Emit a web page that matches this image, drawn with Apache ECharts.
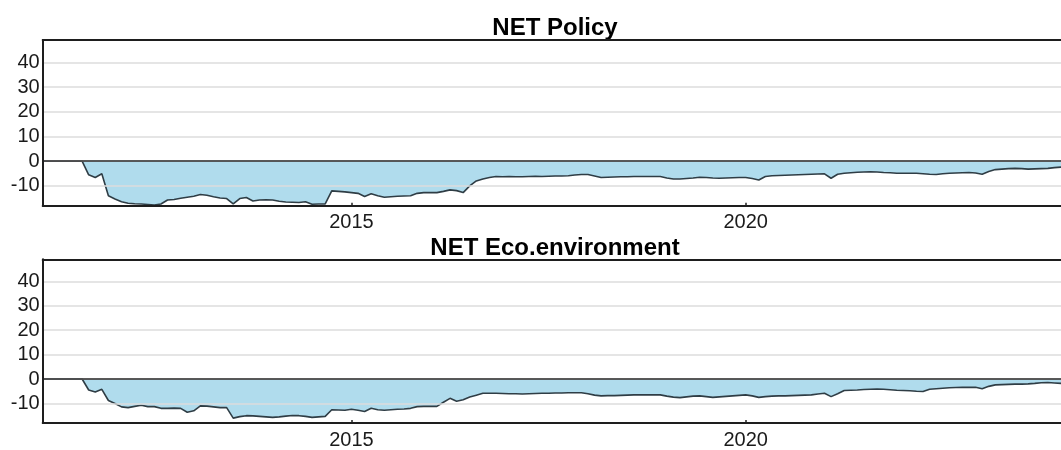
<!DOCTYPE html>
<html>
<head>
<meta charset="utf-8">
<script src="https://cdn.jsdelivr.net/npm/echarts@6/dist/echarts.min.js"></script>
<style>
html,body{margin:0;padding:0;background:#fff;}
#chart{width:1061px;height:450px;}
</style>
</head>
<body>
<div id="chart"></div>
<script>
// Monthly categories, 2011-02 .. 2024-01
const months = [];
for (let y = 2011; y <= 2024; y++) {
  for (let m = 1; m <= 12; m++) {
    if (y === 2011 && m < 2) continue;
    if (y === 2024 && m > 1) continue;
    months.push(y + '-' + (m < 10 ? '0' + m : m));
  }
}
const tickLabels = ['2015-01', '2020-01'];
const titles = ['NET Policy', 'NET Eco.environment'];

const policy = [
  0, 0, 0, 0, 0, 0, 0, -5.5, -6.6, -5.1,
  -14.0, -15.3, -16.4, -17.0, -17.2, -17.3, -17.5, -17.7, -17.3, -15.7,
  -15.5, -15.0, -14.6, -14.2, -13.5, -13.8, -14.4, -14.9, -15.1, -17.3,
  -15.1, -14.7, -16.1, -15.7, -15.6, -15.7, -16.2, -16.5, -16.6, -16.7,
  -16.4, -17.4, -17.3, -17.3, -12.0, -12.2, -12.4, -12.7, -13.0, -14.3,
  -13.2, -14.0, -14.6, -14.4, -14.2, -14.1, -14.0, -13.0, -12.7, -12.7,
  -12.7, -12.2, -11.6, -11.9, -12.7, -10.0, -8.0, -7.2, -6.6, -6.2,
  -6.3, -6.2, -6.3, -6.3, -6.2, -6.1, -6.2, -6.1, -6.0, -6.0,
  -5.9, -5.6, -5.4, -5.4, -6.0, -6.6, -6.5, -6.4, -6.3, -6.3,
  -6.2, -6.2, -6.2, -6.2, -6.2, -6.8, -7.2, -7.2, -7.0, -6.8,
  -6.5, -6.6, -6.8, -6.9, -6.8, -6.7, -6.6, -6.6, -7.0, -7.6,
  -6.2, -5.9, -5.8, -5.7, -5.6, -5.5, -5.4, -5.3, -5.2, -5.1,
  -6.9, -5.3, -4.9, -4.7, -4.5, -4.4, -4.3, -4.4, -4.6, -4.7,
  -4.9, -4.9, -4.9, -4.9, -5.1, -5.3, -5.4, -5.1, -4.9, -4.8,
  -4.7, -4.6, -4.8, -5.3, -4.2, -3.4, -3.2, -3.0, -2.9, -3.0,
  -3.2, -3.1, -3.0, -2.9, -2.6, -2.4
];

const ecoEnv = [
  0, 0, 0, 0, 0, 0, 0, -4.5, -5.3, -4.2,
  -8.8, -10.0, -11.4, -11.7, -11.2, -10.7, -11.3, -11.3, -12.0, -12.0,
  -11.9, -12.0, -13.6, -13.0, -11.0, -11.1, -11.4, -11.7, -11.7, -16.0,
  -15.4, -15.0, -15.1, -15.3, -15.5, -15.7, -15.5, -15.2, -14.9, -15.0,
  -15.3, -15.7, -15.5, -15.3, -12.6, -12.7, -12.8, -12.4, -12.8, -13.3,
  -12.0, -12.6, -12.8, -12.6, -12.4, -12.3, -12.0, -11.3, -11.2, -11.2,
  -11.2, -9.5, -7.9, -9.1, -8.5, -7.4, -6.6, -5.8, -5.8, -5.8,
  -5.9, -6.0, -6.0, -6.1, -6.0, -5.9, -5.8, -5.8, -5.7, -5.7,
  -5.6, -5.6, -5.6, -6.0, -6.6, -6.9, -6.8, -6.8, -6.7, -6.6,
  -6.5, -6.5, -6.5, -6.5, -6.5, -7.0, -7.4, -7.6, -7.3, -7.0,
  -6.9, -7.2, -7.5, -7.3, -7.1, -6.9, -6.7, -6.5, -6.9, -7.5,
  -7.2, -7.0, -6.9, -6.9, -6.8, -6.7, -6.6, -6.5, -6.1, -5.8,
  -7.2, -6.0, -4.7, -4.6, -4.5, -4.3, -4.2, -4.1, -4.2, -4.4,
  -4.6, -4.7, -4.8, -5.0, -5.1, -4.2, -4.0, -3.8, -3.6, -3.5,
  -3.4, -3.4, -3.4, -4.0, -3.0, -2.4, -2.3, -2.2, -2.1, -2.1,
  -2.0, -1.8, -1.5, -1.4, -1.6, -1.8
];

const seriesData = [policy, ecoEnv];
const FONT = '"Liberation Sans", Arial, sans-serif';

const gridTops = [40, 259.3];
const gridH = 165.7;
const titleY = [28.5, 248];
const frame = {color: '#1e1e1e', width: 2};

const chart = echarts.init(document.getElementById('chart'), null, {renderer: 'canvas'});

const grids = [], xAxes = [], yAxes = [], series = [], graphics = [];
for (let k = 0; k < 2; k++) {
  grids.push({
    left: 42.7, top: gridTops[k], height: gridH, width: 1018.8,
    show: false, containLabel: false
  });
  // bottom axis with labels
  xAxes.push({
    type: 'category', gridIndex: k, data: months, boundaryGap: false, position: 'bottom',
    axisLine: {show: true, onZero: false, lineStyle: frame},
    axisTick: {show: true, inside: true, length: 3, lineStyle: {color: '#222', width: 1.5},
      interval: (i, v) => tickLabels.indexOf(v) >= 0},
    axisLabel: {show: true, margin: 7, color: '#1a1a1a', fontSize: 20, fontFamily: FONT,
      interval: (i, v) => tickLabels.indexOf(v) >= 0,
      formatter: v => v.slice(0, 4)},
    splitLine: {show: false},
    z: 5
  });
  // top frame line
  xAxes.push({
    type: 'category', gridIndex: k, data: months, boundaryGap: false, position: 'top',
    axisLine: {show: true, onZero: false, lineStyle: frame},
    axisTick: {show: false}, axisLabel: {show: false}, splitLine: {show: false},
    z: 5
  });
  yAxes.push({
    type: 'value', gridIndex: k, min: -18, max: 49, splitNumber: 7,
    axisLine: {show: true, onZero: false, lineStyle: frame}, axisTick: {show: false},
    axisLabel: {margin: 3, color: '#1a1a1a', fontSize: 20, fontFamily: FONT,
      showMinLabel: false, showMaxLabel: false},
    splitLine: {show: true, showMinLine: false, showMaxLine: false,
      lineStyle: {color: '#dcdcdc', width: 1.6}},
    z: 5
  });
  series.push({
    type: 'line', xAxisIndex: 2 * k, yAxisIndex: k, data: seriesData[k],
    symbol: 'none', smooth: false, clip: true,
    lineStyle: {color: '#2f3d45', width: 1.6},
    areaStyle: {color: '#b0dced', opacity: 1, origin: 0},
    markLine: {
      silent: true, symbol: 'none', label: {show: false},
      lineStyle: {color: '#2a2a2a', width: 1.6, type: 'solid'},
      data: [{yAxis: 0}]
    },
    z: 2
  });
  graphics.push({
    type: 'text', x: 555, y: titleY[k],
    style: {text: titles[k], font: 'bold 24px ' + FONT, fill: '#000',
      align: 'center', verticalAlign: 'middle', textAlign: 'center', textVerticalAlign: 'middle'}
  });
}

chart.setOption({
  animation: false,
  backgroundColor: '#fff',
  grid: grids, xAxis: xAxes, yAxis: yAxes, series: series,
  graphic: graphics
});
</script>
</body>
</html>
